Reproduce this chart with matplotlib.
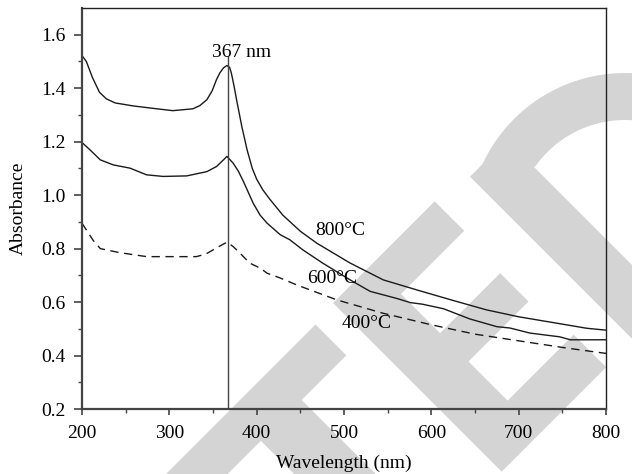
import matplotlib
matplotlib.use("Agg")
import matplotlib.pyplot as plt
from matplotlib.patches import Polygon
from matplotlib.transforms import Affine2D
import numpy as np

plt.rcParams['font.family'] = ['Liberation Serif', 'DejaVu Serif']

# spectres (nm, absorbance)
wl_800 = [200, 205, 212, 220, 228, 238, 258, 278, 304, 327, 335, 343, 349, 354,
          358, 362, 366, 369, 371, 374, 377, 383, 389, 395, 400, 407, 415, 430,
          450, 469, 507, 545, 587, 625, 663, 700, 740, 778, 800]
abs_800 = [1.522, 1.50, 1.44, 1.385, 1.36, 1.345, 1.334, 1.326, 1.316, 1.323,
           1.335, 1.357, 1.39, 1.432, 1.458, 1.476, 1.485, 1.478, 1.457, 1.41,
           1.357, 1.257, 1.17, 1.10, 1.06, 1.02, 0.985, 0.925, 0.865, 0.82,
           0.746, 0.683, 0.642, 0.606, 0.571, 0.545, 0.523, 0.502, 0.495]

wl_600 = [200, 209, 221, 236, 255, 274, 293, 320, 343, 354, 362, 366, 373, 379,
          385, 396, 404, 412, 427, 438, 453, 476, 507, 530, 560, 576, 590, 614,
          644, 675, 690, 713, 747, 759, 800]
abs_600 = [1.197, 1.17, 1.132, 1.113, 1.101, 1.076, 1.07, 1.072, 1.088, 1.107,
           1.132, 1.145, 1.12, 1.09, 1.05, 0.97, 0.925, 0.895, 0.852, 0.833,
           0.795, 0.745, 0.683, 0.64, 0.614, 0.598, 0.592, 0.575, 0.537, 0.508,
           0.503, 0.484, 0.47, 0.459, 0.459]

wl_400 = [200, 207, 213, 221, 243, 274, 331, 342, 350, 358, 366, 373, 381, 392,
          404, 412, 427, 446, 492, 545, 600, 650, 690, 755, 800]
abs_400 = [0.895, 0.86, 0.83, 0.80, 0.785, 0.77, 0.77, 0.78, 0.795, 0.81, 0.824,
           0.808, 0.783, 0.746, 0.727, 0.708, 0.69, 0.664, 0.608, 0.558, 0.515,
           0.48, 0.46, 0.428, 0.408]

peak_nm = 367
labels = ["800°C", "600°C", "400°C"]

fig = plt.figure(figsize=(6.32, 4.74), dpi=100)
ax = fig.add_axes([0.1297, 0.1371, 0.8292, 0.846])
ax.patch.set_alpha(0)

# tampon gris "RETRACTED" en fond (coordonnées en pixels de l'image)
px = Affine2D().scale(1 / 632, -1 / 474).translate(0, 1) + fig.transFigure
def uv(pts):
    return [((u + v) / 2, (v - u) / 2) for u, v in pts]

lettre_t = uv([(-400, 640), (-9, 640), (-9, 701.7), (-98.3, 701.7), (-98.3, 900),
               (-180, 900), (-180, 701.7), (-400, 701.7)])
lettre_e = uv([(30, 636), (233.4, 636), (233.4, 695), (107, 695), (107, 773.3),
               (227, 773.3), (227, 830), (107, 830), (107, 908.3), (239, 908.3),
               (239, 973.3), (30, 973.3)])
d_barre = uv([(293.3, 646.7), (367, 646.7), (367, 1400), (293.3, 1400)])
th_out = np.radians(np.linspace(-161, 10, 60))
th_in = np.radians(np.linspace(10, -144.7, 60))
d_arc = [(625 + 157 * np.cos(t), 230 + 157 * np.sin(t)) for t in th_out] + \
        [(625 + 110 * np.cos(t), 230 + 110 * np.sin(t)) for t in th_in]
for poly in [lettre_t, lettre_e, d_barre, d_arc]:
    fig.add_artist(Polygon(poly, closed=True, transform=px, fc='#d4d4d4',
                           ec='none', zorder=-5))

ax.plot(wl_800, abs_800, color='#1a1a1a', lw=1.0)
ax.plot(wl_600, abs_600, color='#1a1a1a', lw=1.0)
ax.plot(wl_400, abs_400, color='#1a1a1a', lw=1.0, linestyle=(0, (6, 4)))
ax.vlines(peak_nm, 0.2, max(abs_800), color='#444444', lw=1.0)

ax.text(383, 1.518, "367 nm", fontsize=14, ha='center', va='baseline')
ax.text(467, 0.851, labels[0], fontsize=14, ha='left', va='baseline')
ax.text(457.6, 0.671, labels[1], fontsize=14, ha='left', va='baseline')
ax.text(497.4, 0.502, labels[2], fontsize=14, ha='left', va='baseline')

ax.set_xlim(200, 800)
ax.set_ylim(0.2, 1.7)
ax.set_xticks(np.arange(200, 801, 100))
ax.set_xticks(np.arange(250, 800, 100), minor=True)
ax.set_yticks(np.round(np.arange(0.2, 1.61, 0.2), 1))
ax.set_yticks(np.round(np.arange(0.3, 1.7, 0.2), 1), minor=True)
ax.tick_params(axis='both', which='both', direction='out', top=False, right=False,
               labelsize=14, color='#444444')
ax.tick_params(axis='y', which='major', length=6, width=1.2, pad=6)
ax.tick_params(axis='x', which='major', length=4.5, width=1.2, pad=7)
ax.tick_params(axis='both', which='minor', length=3, width=1.0)

for s in ['left', 'bottom']:
    ax.spines[s].set_color('#444444')
    ax.spines[s].set_linewidth(1.6)
for s in ['top', 'right']:
    ax.spines[s].set_color('#222222')
    ax.spines[s].set_linewidth(1.0)

ax.set_xlabel("Wavelength (nm)", fontsize=14, labelpad=9)
ax.set_ylabel("Absorbance", fontsize=14, labelpad=10)

fig.savefig("out.png", dpi=100)
